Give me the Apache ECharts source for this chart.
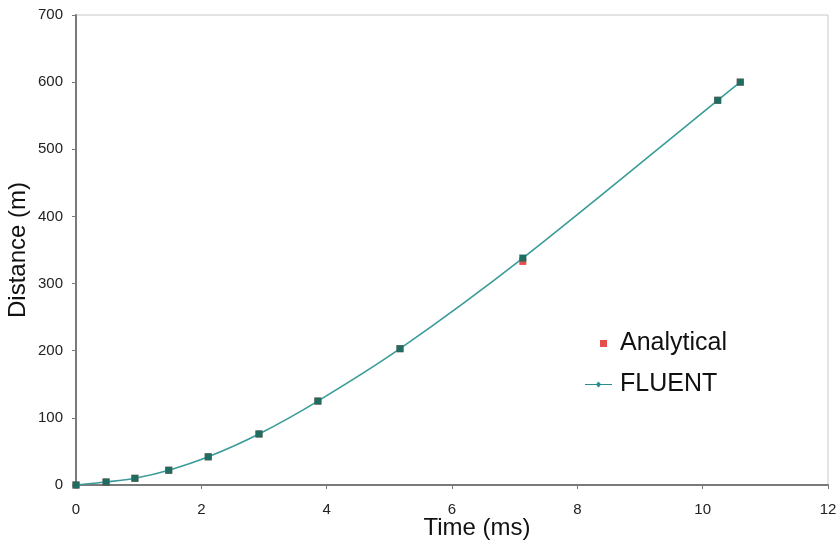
<!DOCTYPE html>
<html>
<head>
<meta charset="utf-8">
<script src="https://cdn.jsdelivr.net/npm/echarts@6/dist/echarts.min.js"></script>
<style>
  html, body { margin: 0; padding: 0; background: #fff; }
  #chart1 { width: 836px; height: 548px; }
</style>
</head>
<body>
<div id="chart1"></div>
<script>
// time (ms)
var timeMs = [0, 0.48, 0.94, 1.48, 2.11, 2.92, 3.86, 5.17, 7.13, 10.24, 10.6];
// distance (m)
var analytical = [0, 4.5, 10, 22, 42, 76, 125, 203, 333, 573, 600];
var fluent = [0, 4.5, 10, 22, 42, 76, 125, 203, 338, 573, 600];

function pairs(xs, ys) {
    var out = [];
    for (var i = 0; i < xs.length; i++) {
        out.push([xs[i], ys[i]]);
    }
    return out;
}

var chart = echarts.init(document.getElementById('chart1'));

var font = 'Liberation Sans, Arial, sans-serif';

var option = {
    animation: false,
    textStyle: { fontFamily: font },
    grid: {
        left: 76, right: 8, top: 15, bottom: 63,
        outerBoundsMode: 'none',
        show: true, borderColor: '#c8c8c8', borderWidth: 1
    },
    legend: [{
        data: ['Analytical'],
        left: 595, top: 326,
        icon: 'rect', itemWidth: 7, itemHeight: 7, itemGap: 0,
        textStyle: { fontSize: 25, color: '#111', padding: [0, 0, 0, 8] }
    }, {
        data: [{ name: 'FLUENT', icon: 'path://M0,3h26v1.2h-26z M13,0.8l2.6,2.8l-2.6,2.8l-2.6,-2.8z' }],
        left: 580, top: 367,
        itemWidth: 27, itemHeight: 7,
        itemStyle: { color: '#2a8f8c' },
        textStyle: { fontSize: 25, color: '#111', padding: [0, 0, 0, 3] }
    }],
    xAxis: {
        type: 'value', min: 0, max: 12, interval: 2,
        name: 'Time (ms)', nameLocation: 'middle', nameGap: 31,
        nameMoveOverlap: false,
        nameTextStyle: { fontSize: 24, color: '#111', padding: [0, 0, 0, 50] },
        axisLine: { lineStyle: { color: '#7a7a7a', width: 2 } },
        axisTick: { show: true, length: 4, inside: false, lineStyle: { color: '#7a7a7a' } },
        axisLabel: { fontSize: 15, color: '#222', margin: 17 },
        splitLine: { show: false }
    },
    yAxis: {
        type: 'value', min: 0, max: 700, interval: 100,
        name: 'Distance (m)', nameLocation: 'middle', nameGap: 46,
        nameMoveOverlap: false,
        nameTextStyle: { fontSize: 24, color: '#111' },
        axisLine: { show: true, lineStyle: { color: '#7a7a7a', width: 2 } },
        axisTick: { show: true, length: 4, inside: false, lineStyle: { color: '#7a7a7a' } },
        axisLabel: { fontSize: 15, color: '#222', margin: 13 },
        splitLine: { show: false }
    },
    series: [{
        name: 'Analytical',
        type: 'scatter',
        data: pairs(timeMs, analytical),
        symbol: 'rect', symbolSize: 7,
        itemStyle: { color: '#e02020' },
        z: 2
    }, {
        name: 'FLUENT',
        type: 'line',
        data: pairs(timeMs, fluent),
        smooth: 0.3,
        symbol: 'rect', symbolSize: 7,
        showAllSymbol: true,
        lineStyle: { color: '#3a9c98', width: 1.6 },
        itemStyle: { color: '#1f6d60' },
        z: 3
    }]
};

chart.setOption(option);
</script>
</body>
</html>
